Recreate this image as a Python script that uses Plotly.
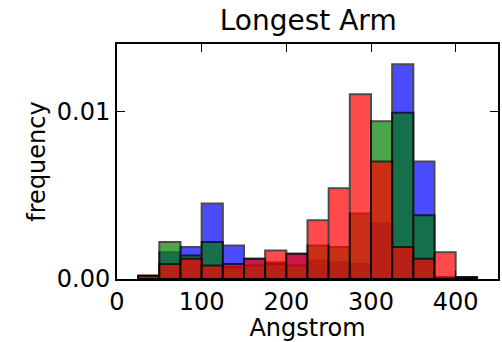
import plotly.graph_objects as go

# Histogram bins (Angstrom): left edges, common width
bin_left = [25, 50, 75, 100, 125, 150, 175, 200, 225, 250, 275, 300, 325, 350, 375, 400]
bin_width = 25

# Normalised frequencies per bin for the three samples
freq_blue = [0.0002, 0.0016, 0.0019, 0.0045, 0.0020, 0.0012, 0.0010, 0.0015,
             0.0011, 0.0010, 0.0009, 0.0033, 0.0128, 0.0070, 0.0001, 0.0001]
freq_green = [0.0002, 0.0022, 0.0014, 0.0022, 0.0007, 0.0008, 0.0009, 0.0008,
              0.0020, 0.0019, 0.0039, 0.0094, 0.0099, 0.0038, 0.0001, 0.0001]
freq_red = [0.0002, 0.0009, 0.0012, 0.0008, 0.0009, 0.0012, 0.0017, 0.0015,
            0.0035, 0.0054, 0.0110, 0.0070, 0.0019, 0.0012, 0.0016, 0.0001]

x_ticks = [0, 100, 200, 300, 400]
y_ticks = [0.0, 0.01]

centers = [b + bin_width / 2 for b in bin_left]

fig = go.Figure()
for vals, col in [(freq_blue, "rgb(0,0,255)"),
                  (freq_green, "rgb(0,128,0)"),
                  (freq_red, "rgb(255,0,0)")]:
    fig.add_trace(go.Bar(
        x=centers, y=vals, width=bin_width,
        marker=dict(color=col, line=dict(color="black", width=2)),
        opacity=0.7, showlegend=False,
    ))

font_family = "DejaVu Sans"
fig.update_layout(
    width=502, height=342,
    margin=dict(l=117, r=2, t=44, b=63),
    barmode="overlay",
    paper_bgcolor="white", plot_bgcolor="white",
    font=dict(family=font_family, size=24, color="black"),
    title=dict(text="Longest Arm", x=0.614, xanchor="center",
               y=1 - 20 / 342, yanchor="middle",
               font=dict(family=font_family, size=28, color="black")),
)
fig.update_xaxes(
    range=[0, 450], tickvals=x_ticks, ticktext=[str(v) for v in x_ticks],
    ticks="inside", ticklen=8, tickwidth=1, tickcolor="black",
    showline=True, linecolor="black", linewidth=2, mirror="ticks",
    showgrid=False, zeroline=False,
    title=dict(text="Angstrom", standoff=0, font=dict(size=24)),
    tickfont=dict(size=24),
)
fig.update_yaxes(
    range=[0, 0.014], tickvals=y_ticks, tickformat=".2f",
    ticks="inside", ticklen=8, tickwidth=1, tickcolor="black",
    showline=True, linecolor="black", linewidth=2, mirror="ticks",
    showgrid=False, zeroline=False,
    title=dict(text="frequency", standoff=4, font=dict(size=24)),
    tickfont=dict(size=24),
)

fig.write_html("out.html")
